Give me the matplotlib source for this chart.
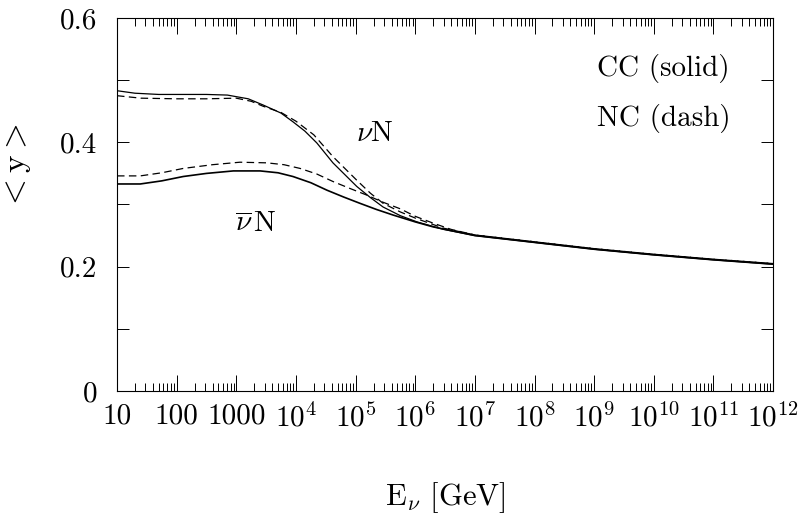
import math
import matplotlib
matplotlib.use("Agg")
import matplotlib.pyplot as plt
from matplotlib.ticker import FixedLocator, FuncFormatter, LogLocator, NullFormatter

plt.rcParams['font.family'] = ['cmr10', 'DejaVu Serif']
plt.rcParams['mathtext.fontset'] = 'cm'
plt.rcParams['axes.formatter.use_mathtext'] = True

# energies given as log10(E / GeV)
nu_cc_logE = [1.0, 1.3, 1.7, 2.0, 2.5, 2.85, 3.2, 3.45, 3.75, 3.95, 4.15, 4.35, 4.62, 5.02, 5.25, 5.46, 5.75, 6.03, 6.47, 7.0, 8.0, 9.0, 10.0, 11.0, 12.0]
nu_cc_y = [0.483, 0.479, 0.477, 0.477, 0.477, 0.476, 0.470, 0.460, 0.447, 0.433, 0.418, 0.399, 0.367, 0.329, 0.311, 0.296, 0.282, 0.272, 0.260, 0.250, 0.239, 0.228, 0.219, 0.211, 0.204]

nu_nc_logE = [1.0, 1.4, 2.0, 2.5, 3.0, 3.25, 3.45, 3.75, 4.0, 4.3, 4.62, 5.02, 5.25, 5.46, 5.75, 6.03, 6.47, 7.0, 8.0, 9.0, 10.0, 11.0, 12.0]
nu_nc_y = [0.475, 0.471, 0.470, 0.470, 0.471, 0.466, 0.458, 0.448, 0.434, 0.412, 0.377, 0.339, 0.318, 0.302, 0.288, 0.277, 0.262, 0.251, 0.240, 0.229, 0.220, 0.212, 0.205]

nub_cc_logE = [1.0, 1.39, 1.75, 2.11, 2.5, 2.95, 3.4, 3.7, 3.95, 4.25, 4.52, 4.8, 5.07, 5.35, 5.63, 6.0, 6.3, 6.6, 7.0, 8.0, 9.0, 10.0, 11.0, 12.0]
nub_cc_y = [0.333, 0.333, 0.338, 0.345, 0.350, 0.354, 0.354, 0.351, 0.345, 0.335, 0.323, 0.312, 0.302, 0.292, 0.283, 0.272, 0.264, 0.258, 0.250, 0.239, 0.228, 0.219, 0.211, 0.204]

nub_nc_logE = [1.0, 1.39, 1.75, 2.11, 2.6, 3.06, 3.51, 3.8, 4.07, 4.35, 4.62, 4.9, 5.19, 5.45, 5.75, 6.0, 6.3, 6.6, 7.0, 8.0, 9.0, 10.0, 11.0, 12.0]
nub_nc_y = [0.346, 0.346, 0.351, 0.358, 0.364, 0.368, 0.367, 0.364, 0.358, 0.349, 0.337, 0.326, 0.315, 0.304, 0.293, 0.281, 0.270, 0.260, 0.251, 0.240, 0.229, 0.220, 0.212, 0.205]

xtick_exp = list(range(1, 13))

fig = plt.figure(figsize=(8.07, 5.21), dpi=100)
ax = fig.add_axes([0.145, 0.2495, 0.813, 0.716])

def E(logs):
    return [10 ** v for v in logs]

ax.plot(E(nu_cc_logE), nu_cc_y, '-', color='black', lw=0.9)
ax.plot(E(nu_nc_logE), nu_nc_y, '--', color='black', lw=0.9, dashes=(6, 3.5))
ax.plot(E(nub_cc_logE), nub_cc_y, '-', color='black', lw=1.2)
ax.plot(E(nub_nc_logE), nub_nc_y, '--', color='black', lw=0.9, dashes=(6, 3.5))

ax.set_xscale('log')
ax.set_xlim(10, 1e12)
ax.set_ylim(0, 0.6)

def xfmt(v, pos):
    if v < 1e4:
        return '%d' % round(v)
    return r'$10^{%d}$' % round(math.log10(v))

ax.xaxis.set_major_locator(FixedLocator([10 ** e for e in xtick_exp]))
ax.xaxis.set_major_formatter(FuncFormatter(xfmt))
ax.xaxis.set_minor_locator(LogLocator(base=10, subs=range(2, 10), numticks=50))
ax.xaxis.set_minor_formatter(NullFormatter())

ax.yaxis.set_major_locator(FixedLocator([0, 0.1, 0.2, 0.3, 0.4, 0.5, 0.6]))
ax.yaxis.set_major_formatter(FuncFormatter(
    lambda v, p: {0: '0', 2: '0.2', 4: '0.4', 6: '0.6'}.get(int(round(v * 10)), '')))

ax.tick_params(axis='x', which='major', direction='in', length=11.5, width=0.7,
               top=True, labelsize=21, pad=9)
ax.tick_params(axis='x', which='minor', direction='in', length=5.5, width=0.7, top=True)
ax.tick_params(axis='y', which='major', direction='in', length=8.5, width=0.7,
               right=True, labelsize=21, pad=14)
for s in ax.spines.values():
    s.set_linewidth(0.8)

ax.set_xlabel(r'E$_\nu$ [GeV]', fontsize=22)
ax.xaxis.set_label_coords(0.5, -0.24)
ax.set_ylabel(r'$<$y$>$', fontsize=24)
ax.yaxis.set_label_coords(-0.128, 0.6)

ax.text(2.1e5, 0.413, r'$\nu$N', fontsize=21, ha='center', va='center')
ax.text(2150, 0.267, r'$\overline{\nu}\,$N', fontsize=21, ha='center', va='center')
ax.text(1.1e9, 0.518, 'CC (solid)', fontsize=21, ha='left', va='center')
ax.text(1.1e9, 0.438, 'NC (dash)', fontsize=21, ha='left', va='center')

fig.savefig('out.png', dpi=100)
